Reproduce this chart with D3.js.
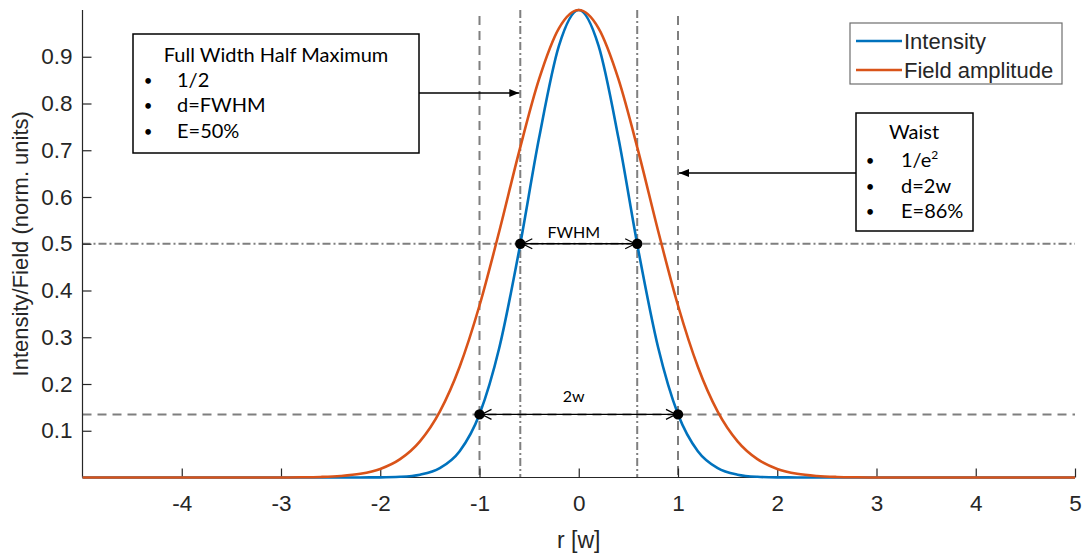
<!DOCTYPE html>
<html><head><meta charset="utf-8">
<script src="https://cdn.jsdelivr.net/npm/d3@7"></script>
<style>
html,body{margin:0;padding:0;background:#fff;}
svg{display:block;}
</style></head>
<body>
<svg id="chart" width="1091" height="557"></svg>
<script>
// ---- data ----
const rValues = [-5, -3, -2.8, -2.6, -2.4, -2.2, -2, -1.8, -1.6, -1.4, -1.2, -1, -0.8, -0.6, -0.4, -0.2, 0,
  0.2, 0.4, 0.6, 0.8, 1, 1.2, 1.4, 1.6, 1.8, 2, 2.2, 2.4, 2.6, 2.8, 3, 5];
const intensityValues = [0, 0, 0, 0, 0, 0.0001, 0.0003, 0.0015, 0.0060, 0.0198, 0.0561, 0.1353, 0.2780, 0.4868, 0.7261, 0.9231, 1,
  0.9231, 0.7261, 0.4868, 0.2780, 0.1353, 0.0561, 0.0198, 0.0060, 0.0015, 0.0003, 0.0001, 0, 0, 0, 0, 0];
const fieldValues = [0, 0.0001, 0.0004, 0.0012, 0.0032, 0.0079, 0.0183, 0.0392, 0.0773, 0.1409, 0.2369, 0.3679, 0.5273, 0.6977, 0.8521, 0.9608, 1,
  0.9608, 0.8521, 0.6977, 0.5273, 0.3679, 0.2369, 0.1409, 0.0773, 0.0392, 0.0183, 0.0079, 0.0032, 0.0012, 0.0004, 0.0001, 0];
const seriesNames = ["Intensity", "Field amplitude"];
const xTickValues = [-4, -3, -2, -1, 0, 1, 2, 3, 4, 5];
const yTickValues = [0.1, 0.2, 0.3, 0.4, 0.5, 0.6, 0.7, 0.8, 0.9];
const fwhmX = [-0.589, 0.589];
const halfLevel = 0.5;
const waistX = [-1, 1];
const waistLevel = 0.135;
const fwhmBoxLines = ["Full Width Half Maximum", "1/2", "d=FWHM", "E=50%"];
const waistBoxLines = ["Waist", "1/e", "d=2w", "E=86%"];

// ---- layout ----
const svg = d3.select("#chart");
const x = d3.scaleLinear().domain([-5, 5]).range([82.5, 1075]);
const y = d3.scaleLinear().domain([0, 1]).range([477.5, 10]);
const colors = ["#0072BD", "#D95319"];
const axisColor = "#262626";
const refColor = "#7f7f7f";
const axFont = "'Liberation Sans', Arial, sans-serif";
const annFont = "Lato, 'Open Sans', sans-serif";

// defs: arrowheads
const defs = svg.append("defs");
defs.append("marker").attr("id", "filled").attr("viewBox", "0 0 10 10")
  .attr("refX", 10).attr("refY", 5).attr("markerWidth", 10).attr("markerHeight", 10)
  .attr("markerUnits", "userSpaceOnUse").attr("orient", "auto")
  .append("path").attr("d", "M0,1 L10,5 L0,9 Z").attr("fill", "#000");
defs.append("marker").attr("id", "open").attr("viewBox", "0 0 12 12")
  .attr("refX", 11).attr("refY", 6).attr("markerWidth", 12).attr("markerHeight", 12)
  .attr("markerUnits", "userSpaceOnUse").attr("orient", "auto-start-reverse")
  .append("path").attr("d", "M1,1 L11,6 L1,11").attr("fill", "none").attr("stroke", "#000").attr("stroke-width", 1.3);

// reference lines
const ref = svg.append("g");
fwhmX.forEach(v => ref.append("line")
  .attr("x1", x(v)).attr("x2", x(v)).attr("y1", y(1)).attr("y2", y(0))
  .attr("stroke", refColor).attr("stroke-width", 2).attr("stroke-dasharray", "8,3,2,3"));
waistX.forEach(v => ref.append("line")
  .attr("x1", x(v)).attr("x2", x(v)).attr("y1", y(1) + 6).attr("y2", y(0))
  .attr("stroke", refColor).attr("stroke-width", 2).attr("stroke-dasharray", "9,6"));
ref.append("line").attr("x1", x(-5)).attr("x2", x(5)).attr("y1", y(halfLevel)).attr("y2", y(halfLevel))
  .attr("stroke", refColor).attr("stroke-width", 2).attr("stroke-dasharray", "8,3,2,3");
ref.append("line").attr("x1", x(-5)).attr("x2", x(5)).attr("y1", y(waistLevel)).attr("y2", y(waistLevel))
  .attr("stroke", refColor).attr("stroke-width", 2).attr("stroke-dasharray", "9,6");

// axes
const yAxis = d3.axisLeft(y).tickValues(yTickValues).tickSizeInner(-9).tickSizeOuter(0).tickPadding(10)
  .tickFormat(d3.format(".1f"));
const gy = svg.append("g").attr("transform", `translate(${x(-5)},0)`).call(yAxis);
const xAxis = d3.axisBottom(x).tickValues(xTickValues).tickSizeInner(-9).tickSizeOuter(0).tickPadding(18)
  .tickFormat(d => String(d));
const gx = svg.append("g").attr("transform", `translate(0,${y(0)})`).call(xAxis);
[gx, gy].forEach(g => {
  g.select(".domain").attr("stroke", axisColor).attr("stroke-width", 1.2);
  g.selectAll(".tick line").attr("stroke", axisColor).attr("stroke-width", 1.2);
  g.selectAll(".tick text").attr("fill", axisColor).style("font-family", axFont).style("font-size", "22.5px");
});
gx.selectAll(".tick text").attr("dy", "0.71em");
gx.select(".domain").attr("d", `M${x(-5)},0H${x(5)}`);
gy.select(".domain").attr("d", `M0,${y(0)}V${y(1)}`);

// axis titles
svg.append("text").attr("x", x(0)).attr("y", 548).attr("text-anchor", "middle")
  .attr("fill", axisColor).style("font-family", axFont).style("font-size", "23px").text("r [w]");
svg.append("text").attr("transform", `translate(28,${y(0.5)}) rotate(-90)`).attr("text-anchor", "middle")
  .attr("fill", axisColor).style("font-family", axFont).style("font-size", "22px").text("Intensity/Field (norm. units)");

// curves
const line = d3.line().x((d, i) => x(rValues[i])).y(d => y(d)).curve(d3.curveMonotoneX);
[intensityValues, fieldValues].forEach((vals, k) => {
  svg.append("path").attr("d", line(vals)).attr("fill", "none")
    .attr("stroke", colors[k]).attr("stroke-width", 2.6).attr("stroke-linejoin", "round");
});

// double arrows
const ann = svg.append("g");
ann.append("line").attr("x1", x(fwhmX[0]) + 2).attr("x2", x(fwhmX[1]) - 2)
  .attr("y1", y(halfLevel)).attr("y2", y(halfLevel)).attr("stroke", "#000").attr("stroke-width", 1.3)
  .attr("marker-start", "url(#open)").attr("marker-end", "url(#open)");
ann.append("line").attr("x1", x(waistX[0]) + 2).attr("x2", x(waistX[1]) - 2)
  .attr("y1", y(waistLevel)).attr("y2", y(waistLevel)).attr("stroke", "#000").attr("stroke-width", 1.3)
  .attr("marker-start", "url(#open)").attr("marker-end", "url(#open)");
ann.append("text").attr("x", x(0) - 5).attr("y", y(halfLevel) - 6).attr("text-anchor", "middle")
  .style("font-family", annFont).style("font-size", "16px").text("FWHM");
ann.append("text").attr("x", x(0) - 5).attr("y", y(waistLevel) - 12).attr("text-anchor", "middle")
  .style("font-family", annFont).style("font-size", "16px").text("2w");

// dots
const dots = [[fwhmX[0], halfLevel], [fwhmX[1], halfLevel], [waistX[0], waistLevel], [waistX[1], waistLevel]];
svg.append("g").selectAll("circle").data(dots).join("circle")
  .attr("cx", d => x(d[0])).attr("cy", d => y(d[1])).attr("r", 5.2).attr("fill", "#000");

// FWHM box
const b1 = {x: 133, y: 34, w: 286, h: 119};
svg.append("rect").attr("x", b1.x).attr("y", b1.y).attr("width", b1.w).attr("height", b1.h)
  .attr("fill", "#fff").attr("stroke", "#000").attr("stroke-width", 1.5);
svg.append("text").attr("x", 276).attr("y", 62).attr("text-anchor", "middle")
  .style("font-family", annFont).style("font-size", "20px").text(fwhmBoxLines[0]);
[87, 112, 138].forEach((by, i) => {
  svg.append("text").attr("x", 148).attr("y", by - 1).attr("text-anchor", "middle")
    .style("font-family", annFont).style("font-size", "15px").text("•");
  svg.append("text").attr("x", 177).attr("y", by)
    .style("font-family", annFont).style("font-size", "20px").text(fwhmBoxLines[i + 1]);
});
svg.append("line").attr("x1", b1.x + b1.w).attr("x2", x(fwhmX[0]) - 1).attr("y1", 93).attr("y2", 93)
  .attr("stroke", "#000").attr("stroke-width", 1.3).attr("marker-end", "url(#filled)");

// Waist box
const b2 = {x: 856, y: 113, w: 117, h: 118};
svg.append("rect").attr("x", b2.x).attr("y", b2.y).attr("width", b2.w).attr("height", b2.h)
  .attr("fill", "#fff").attr("stroke", "#000").attr("stroke-width", 1.5);
svg.append("text").attr("x", 914).attr("y", 139).attr("text-anchor", "middle")
  .style("font-family", annFont).style("font-size", "20px").text(waistBoxLines[0]);
[167, 193, 218].forEach((by, i) => {
  svg.append("text").attr("x", 870).attr("y", by - 1).attr("text-anchor", "middle")
    .style("font-family", annFont).style("font-size", "15px").text("•");
  const t = svg.append("text").attr("x", 901).attr("y", by)
    .style("font-family", annFont).style("font-size", "20px").text(waistBoxLines[i + 1]);
  if (i === 0) t.append("tspan").attr("dy", -8).style("font-size", "12px").text("2");
});
svg.append("line").attr("x1", b2.x).attr("x2", x(waistX[1]) + 1).attr("y1", 173).attr("y2", 173)
  .attr("stroke", "#000").attr("stroke-width", 1.3).attr("marker-end", "url(#filled)");

// legend
const lg = svg.append("g");
lg.append("rect").attr("x", 850).attr("y", 23).attr("width", 212).attr("height", 61)
  .attr("fill", "#fff").attr("stroke", "#6e6e6e").attr("stroke-width", 1.2);
seriesNames.forEach((name, i) => {
  const cy = 41 + i * 29;
  lg.append("line").attr("x1", 856).attr("x2", 902).attr("y1", cy).attr("y2", cy)
    .attr("stroke", colors[i]).attr("stroke-width", 2.6);
  lg.append("text").attr("x", 904).attr("y", cy).attr("dy", "0.36em")
    .attr("fill", axisColor).style("font-family", axFont).style("font-size", "22px").text(name);
});
</script>
</body></html>
